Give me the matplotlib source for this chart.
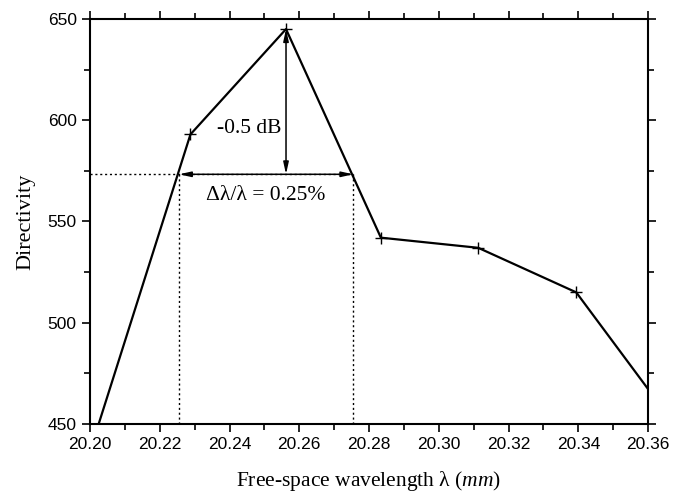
import matplotlib
matplotlib.use("Agg")
from matplotlib import pyplot as plt
from matplotlib.ticker import MultipleLocator, FormatStrFormatter

# data
wavelength = [20.2012, 20.2288, 20.2562, 20.2834, 20.3113, 20.3394, 20.3670]
directivity = [443, 593, 645, 542, 537, 515, 451]

peak_x = 20.2562
peak_y = 645
half_level = 573.3
band_lo = 20.2255
band_hi = 20.2755

plt.rcParams["font.family"] = "Liberation Sans"
plt.rcParams["mathtext.fontset"] = "custom"
plt.rcParams["mathtext.rm"] = "Liberation Serif"
plt.rcParams["mathtext.it"] = "Liberation Serif:italic"

fig = plt.figure(figsize=(6.73, 4.93), dpi=100)
ax = fig.add_axes([0.1337, 0.140, 0.8293, 0.8215])

ax.plot(wavelength, directivity, color="k", lw=1.6, marker="+", ms=9, mew=1.0)

# dotted guide lines for the -0.5 dB band
ax.plot([20.20, band_hi], [half_level, half_level], color="k", lw=1, ls=(0, (1.5, 2)))
ax.plot([band_lo, band_lo], [450, half_level], color="k", lw=1, ls=(0, (1.5, 2)))
ax.plot([band_hi, band_hi], [450, half_level], color="k", lw=1, ls=(0, (1.5, 2)))

arrow = dict(arrowstyle="<|-|>,head_length=1.0,head_width=0.22", color="k", lw=1.1,
             mutation_scale=7, shrinkA=0, shrinkB=0)
ax.annotate("", xy=(peak_x, peak_y), xytext=(peak_x, half_level), arrowprops=arrow)
ax.annotate("", xy=(band_lo, half_level), xytext=(band_hi, half_level), arrowprops=arrow)

ax.text(20.2548, 596, "-0.5 dB", family="Liberation Serif", fontsize=15.5, ha="right", va="center")
ax.text(20.2505, 563, "Δλ/λ = 0.25%", family="Liberation Serif", fontsize=15.5, ha="center", va="center")

ax.set_xlim(20.20, 20.36)
ax.set_ylim(450, 650)
ax.xaxis.set_major_locator(MultipleLocator(0.02))
ax.xaxis.set_minor_locator(MultipleLocator(0.01))
ax.yaxis.set_major_locator(MultipleLocator(50))
ax.yaxis.set_minor_locator(MultipleLocator(25))
ax.xaxis.set_major_formatter(FormatStrFormatter("%.2f"))

ax.tick_params(which="both", direction="out", top=True, right=True, width=1.2, labelsize=12.5)
ax.tick_params(which="major", length=6)
ax.tick_params(which="minor", length=4)
for s in ax.spines.values():
    s.set_linewidth(1.5)

ax.set_xlabel("Free-space wavelength λ ($\\it{mm}$)", family="Liberation Serif", fontsize=15.5, labelpad=12)
ax.set_ylabel("Directivity", family="Liberation Serif", fontsize=16, labelpad=9)

fig.savefig("out.png", dpi=100)
